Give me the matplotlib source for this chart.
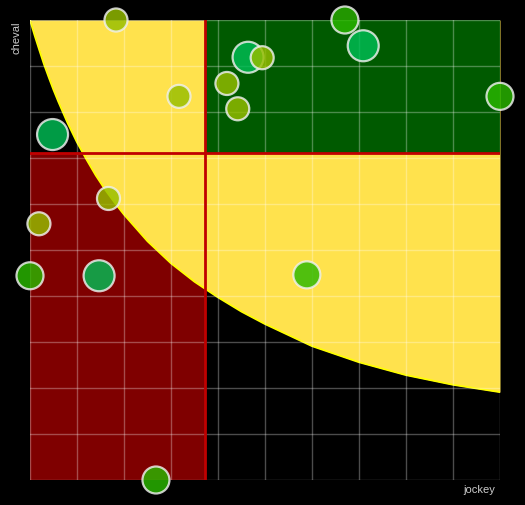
import matplotlib
matplotlib.use("Agg")
import matplotlib.pyplot as plt
import numpy as np

# ---- data ----
jockey = [0.183, 0.464, 0.494, 0.670, 0.709, 0.419, 0.442, 0.317, 1.000,
          0.048, 0.167, 0.019, 0.000, 0.147, 0.589, 0.268]
cheval = [1.000, 0.919, 0.918, 1.000, 0.944, 0.862, 0.807, 0.834, 0.834,
          0.751, 0.612, 0.557, 0.444, 0.444, 0.446, 0.000]
group = [1, 3, 1, 2, 3, 1, 1, 1, 2, 3, 1, 1, 2, 3, 2, 2]

# boundary curve
curve_x = [0.0, 0.005, 0.01, 0.02, 0.03, 0.04, 0.05, 0.06, 0.08, 0.10,
           0.12, 0.14, 0.16, 0.18, 0.20, 0.25, 0.30, 0.35, 0.40, 0.45,
           0.50, 0.60, 0.70, 0.80, 0.90, 1.00]
curve_y = [1.000, 0.983, 0.966, 0.934, 0.903, 0.875, 0.848, 0.823, 0.776,
           0.734, 0.697, 0.662, 0.631, 0.603, 0.577, 0.519, 0.471, 0.431,
           0.397, 0.366, 0.339, 0.291, 0.256, 0.228, 0.207, 0.191]

split_x = 0.372
split_y = 0.711

group_colors = {1: "#96be00", 2: "#2ab800", 3: "#00be55"}
group_sizes = {1: 275, 2: 378, 3: 498}

# ---- figure ----
fig = plt.figure(figsize=(5.25, 5.05), dpi=100, facecolor="black")
ax = fig.add_axes([30 / 525, 25 / 505, 470 / 525, 460 / 505])
ax.set_facecolor("black")
ax.set_xlim(0, 1)
ax.set_ylim(0, 1)

# red quadrant (bottom-left)
ax.fill_between([0, split_x], 0, split_y, color="#7f0000", lw=0, zorder=1)
# yellow region above curve
ax.fill_between(curve_x, curve_y, 1, color="#ffe24d", lw=0, zorder=2)
ax.plot(curve_x, curve_y, color="#ffff00", lw=1.3, zorder=2.5)
# green quadrant (top-right)
ax.fill_between([split_x, 1], split_y, 1, color="#005a00", lw=0, zorder=3)

# grid
for v in np.linspace(0, 1, 11):
    ax.axvline(v, color="white", alpha=0.3, lw=1.0, zorder=4)
    ax.axhline(v, color="white", alpha=0.3, lw=1.0, zorder=4)

# split lines
ax.axvline(split_x, color="#c00000", lw=2.0, zorder=5)
ax.axhline(split_y, color="#c00000", lw=2.0, zorder=5)

# points
cols = [group_colors[g] for g in group]
sizes = [group_sizes[g] for g in group]
ax.scatter(jockey, cheval, s=sizes, c=cols, alpha=0.82,
           edgecolors="#f0f0f0", linewidths=1.6, zorder=6, clip_on=False)

for s in ax.spines.values():
    s.set_visible(False)
ax.set_xticks([])
ax.set_yticks([])

fig.text(495 / 525, 1 - 490 / 505, "jockey", color="#cccccc", fontsize=8,
         ha="right", va="center", family="Liberation Sans")
fig.text(16 / 525, 1 - 22 / 505, "cheval", color="#cccccc", fontsize=8,
         ha="center", va="top", rotation=90, family="Liberation Sans")

fig.savefig("out.png", dpi=100, facecolor="black")
